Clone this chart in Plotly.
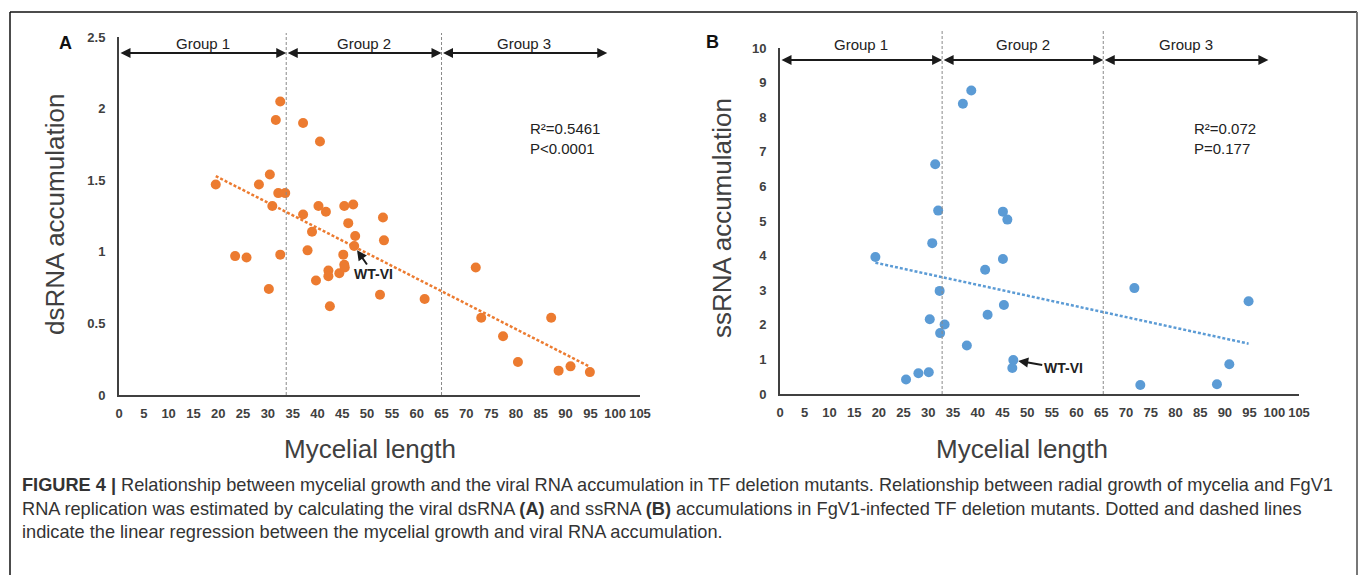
import numpy as np
import plotly.graph_objects as go

W, H = 1359, 575

# ---------------- data ----------------
# Panel A: mycelial length vs dsRNA accumulation
a_len = [19.5, 23.4, 25.7, 28.2, 30.4, 30.2, 30.9, 31.6, 32.5, 32.1, 33.5, 32.5,
         37.1, 37.1, 38.0, 38.9, 39.7, 40.5, 40.2, 41.7, 42.2, 42.2, 42.5, 44.4,
         45.2, 45.4, 45.5, 45.4, 46.2, 47.2, 47.6, 47.4, 53.2, 53.4, 52.6, 61.6,
         71.9, 73.0, 77.4, 80.4, 87.1, 88.6, 91.0, 94.9]
a_ds = [1.47, 0.97, 0.96, 1.47, 1.54, 0.74, 1.32, 1.92, 2.05, 1.41, 1.41, 0.98,
        1.90, 1.26, 1.01, 1.14, 0.80, 1.77, 1.32, 1.28, 0.87, 0.83, 0.62, 0.85,
        0.98, 0.91, 0.89, 1.32, 1.20, 1.33, 1.11, 1.04, 1.24, 1.08, 0.70, 0.67,
        0.89, 0.54, 0.41, 0.23, 0.54, 0.17, 0.20, 0.16]

# Panel B: mycelial length vs ssRNA accumulation
b_len = [19.3, 25.5, 28.0, 30.1, 30.3, 30.8, 31.4, 32.0, 32.3, 32.4, 33.3,
         37.8, 37.0, 38.7, 41.5, 42.0, 45.1, 46.0, 45.1, 45.3, 47.2, 47.0,
         71.7, 72.9, 88.4, 90.9, 94.8]
b_ss = [3.96, 0.42, 0.60, 0.63, 2.16, 4.36, 6.64, 5.30, 2.98, 1.76, 2.01,
        1.40, 8.39, 8.77, 3.59, 2.29, 5.27, 5.04, 3.90, 2.57, 0.98, 0.75,
        3.06, 0.26, 0.28, 0.86, 2.68]

# WT-VI reference strain
a_wt = (47.4, 1.04)
b_wt = (47.2, 0.98)

x_ticks = list(range(0, 106, 5))
a_y_ticks = [0, 0.5, 1, 1.5, 2, 2.5]
a_y_labels = ["0", "0.5", "1", "1.5", "2", "2.5"]
b_y_ticks = list(range(0, 11))

group_names = ["Group 1", "Group 2", "Group 3"]
a_bounds = [0, 33.7, 65.0, 98.4]
b_bounds = [0, 32.8, 65.4, 98.8]

a_stats = "R\u00b2=0.5461<br>P<0.0001"
b_stats = "R\u00b2=0.072<br>P=0.177"

caption_lines = [
    "<b>FIGURE 4 |</b> Relationship between mycelial growth and the viral RNA accumulation in TF deletion mutants. Relationship between radial growth of mycelia and FgV1",
    "RNA replication was estimated by calculating the viral dsRNA <b>(A)</b> and ssRNA <b>(B)</b> accumulations in FgV1-infected TF deletion mutants. Dotted and dashed lines",
    "indicate the linear regression between the mycelial growth and viral RNA accumulation.",
]

ORANGE = "#EC7B30"
BLUE = "#5B9BD5"
AXC = "#404040"
FONT = "Arial, Liberation Sans, sans-serif"


def px(x):
    return x / W


def py(y):
    return 1 - y / H


fig = go.Figure()


def fit_line(xs, ys):
    k, b = np.polyfit(xs, ys, 1)
    xx = np.array([min(xs), max(xs)])
    return xx, k * xx + b


for xs, ys, col, xa, ya in [(a_len, a_ds, ORANGE, "x", "y"), (b_len, b_ss, BLUE, "x2", "y2")]:
    fig.add_trace(go.Scatter(x=xs, y=ys, mode="markers", xaxis=xa, yaxis=ya,
                             marker=dict(size=10, color=col, line=dict(width=0)),
                             showlegend=False, hoverinfo="x+y"))
    tx, ty = fit_line(xs, ys)
    fig.add_trace(go.Scatter(x=tx, y=ty, mode="lines", xaxis=xa, yaxis=ya,
                             line=dict(color=col, width=2.5, dash="3px,2px"),
                             showlegend=False, hoverinfo="skip"))

axis_common = dict(showline=True, linecolor=AXC, linewidth=2, showgrid=False,
                   zeroline=False, ticks="outside", tickcolor="rgba(0,0,0,0)",
                   fixedrange=True, automargin=False)
tick_font = dict(size=13, weight="bold", color=AXC, family=FONT)

fig.update_layout(
    width=W, height=H, margin=dict(l=0, r=0, t=0, b=0, pad=0, autoexpand=False),
    paper_bgcolor="white", plot_bgcolor="white",
    font=dict(family=FONT, color=AXC),
    xaxis=dict(domain=[px(119), px(640)], range=[0, 105], tickmode="array",
               tickvals=x_ticks, ticktext=[str(v) for v in x_ticks], tickangle=0,
               ticklen=5, tickfont=tick_font, anchor="y", **axis_common),
    yaxis=dict(domain=[py(395), py(37)], range=[0, 2.5], tickmode="array",
               tickvals=a_y_ticks, ticktext=a_y_labels, ticklen=9,
               tickfont=tick_font, anchor="x", **axis_common),
    xaxis2=dict(domain=[px(780), px(1299)], range=[0, 105], tickmode="array",
                tickvals=x_ticks, ticktext=[str(v) for v in x_ticks], tickangle=0,
                ticklen=5, tickfont=tick_font, anchor="y2", **axis_common),
    yaxis2=dict(domain=[py(394), py(48)], range=[0, 10], tickmode="array",
                tickvals=b_y_ticks, ticktext=[str(v) for v in b_y_ticks], ticklen=9,
                tickfont=tick_font, anchor="x2", **axis_common),
)

shapes = []
annotations = []

panels = [
    dict(xa="x", ya="y", bounds=a_bounds, arrow_y=2.388, label_py=43, sep_top_py=33,
         axis_bottom_py=395, stats=a_stats, stats_x=528, wt=a_wt, wt_text=(51.3, 0.845),
         ytitle="dsRNA accumulation", ytitle_x=55, ytitle_y=215, xtitle_x=370,
         letter="A", letter_x=65, letter_y=43),
    dict(xa="x2", ya="y2", bounds=b_bounds, arrow_y=9.65, label_py=44, sep_top_py=30,
         axis_bottom_py=394, stats=b_stats, stats_x=1192, wt=b_wt, wt_text=(57.3, 0.74),
         ytitle="ssRNA accumulation", ytitle_x=722, ytitle_y=218, xtitle_x=1022,
         letter="B", letter_x=712, letter_y=42),
]

for p in panels:
    bnd = p["bounds"]
    # group separators
    for bx in bnd[1:3]:
        shapes.append(dict(type="line", xref=p["xa"], yref="paper", x0=bx, x1=bx,
                           y0=py(p["axis_bottom_py"]), y1=py(p["sep_top_py"]),
                           line=dict(color="#8a8a8a", width=1, dash="3px,2px")))
    # group arrows and labels
    for i, name in enumerate(group_names):
        annotations.append(dict(xref=p["xa"], yref=p["ya"], x=bnd[i + 1], y=p["arrow_y"],
                                axref=p["xa"], ayref=p["ya"], ax=bnd[i], ay=p["arrow_y"],
                                text="", showarrow=True, arrowhead=2, arrowside="end+start",
                                arrowsize=1, arrowwidth=2, arrowcolor="#1a1a1a",
                                standoff=0, startstandoff=0))
        annotations.append(dict(xref=p["xa"], yref="paper", x=(bnd[i] + bnd[i + 1]) / 2,
                                y=py(p["label_py"]), xanchor="center", yanchor="middle",
                                text=name, showarrow=False,
                                font=dict(size=15, color="#222")))
    # stats
    annotations.append(dict(xref="paper", yref="paper", x=px(p["stats_x"]), y=py(139),
                            xanchor="left", yanchor="middle", align="left",
                            text=p["stats"], showarrow=False,
                            font=dict(size=15, color="#222")))
    # WT-VI
    annotations.append(dict(xref=p["xa"], yref=p["ya"], x=p["wt"][0], y=p["wt"][1],
                            axref=p["xa"], ayref=p["ya"], ax=p["wt_text"][0], ay=p["wt_text"][1],
                            text="<b>WT-VI</b>", showarrow=True, arrowhead=2, arrowsize=1,
                            arrowwidth=2, arrowcolor="#1a1a1a", standoff=5,
                            font=dict(size=14, color="#222")))
    # axis titles
    annotations.append(dict(xref="paper", yref="paper", x=px(p["ytitle_x"]), y=py(p["ytitle_y"]),
                            xanchor="center", yanchor="middle",
                            text=p["ytitle"], textangle=-90, showarrow=False,
                            font=dict(size=26, color=AXC)))
    annotations.append(dict(xref="paper", yref="paper", x=px(p["xtitle_x"]), y=py(449),
                            xanchor="center", yanchor="middle",
                            text="Mycelial length", showarrow=False,
                            font=dict(size=26, color=AXC)))
    # panel letter
    annotations.append(dict(xref="paper", yref="paper", x=px(p["letter_x"]), y=py(p["letter_y"]),
                            xanchor="center", yanchor="middle",
                            text="<b>" + p["letter"] + "</b>", showarrow=False,
                            font=dict(size=18, color="#111")))

# caption
for i, line in enumerate(caption_lines):
    annotations.append(dict(xref="paper", yref="paper", x=px(20), y=py(485 + 23.5 * i),
                            xanchor="left", yanchor="middle", align="left",
                            text=line, showarrow=False,
                            font=dict(size=18.2, color="#333")))

# figure frame
shapes.append(dict(type="line", xref="paper", yref="paper", x0=px(10), x1=px(1357),
                   y0=py(12), y1=py(12), line=dict(color="#111", width=1.5)))
shapes.append(dict(type="line", xref="paper", yref="paper", x0=px(10), x1=px(10),
                   y0=py(12), y1=py(580), line=dict(color="#111", width=1.5)))
shapes.append(dict(type="line", xref="paper", yref="paper", x0=px(1357), x1=px(1357),
                   y0=py(12), y1=py(580), line=dict(color="#777", width=2)))

fig.update_layout(shapes=shapes, annotations=annotations)
fig.write_html(
    "out.html",
    config={"displayModeBar": False},
    post_script="document.body.style.margin='0';document.body.style.overflow='hidden';",
)
